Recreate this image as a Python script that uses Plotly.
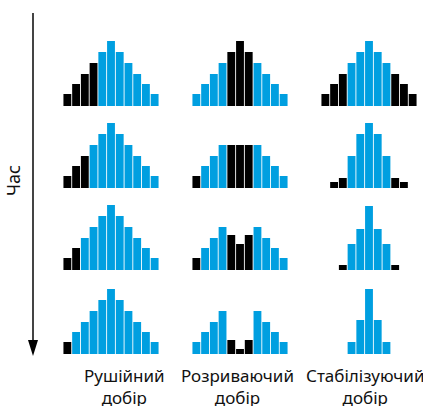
import plotly.graph_objects as go

W, H = 423, 406

# bar heights per panel (rows top->bottom), 11 classes each
directional = [
    [12, 22, 32, 43, 54, 65, 54, 43, 32, 22, 12],
    [12, 22, 32, 43, 54, 65, 54, 43, 32, 22, 12],
    [12, 22, 32, 43, 54, 65, 54, 43, 32, 22, 12],
    [12, 22, 32, 43, 54, 65, 54, 43, 32, 22, 12],
]
directional_black = [[0, 1, 2, 3], [0, 1, 2], [0, 1], [0]]

disruptive = [
    [12, 22, 32, 43, 54, 65, 54, 43, 32, 22, 12],
    [12, 22, 32, 43, 43, 43, 43, 43, 32, 22, 12],
    [12, 22, 32, 43, 35, 26, 35, 43, 32, 22, 12],
    [12, 22, 32, 43, 14, 5, 14, 43, 32, 22, 12],
]
disruptive_black = [[4, 5, 6], [0, 4, 5, 6], [0, 4, 5, 6], [4, 5, 6]]

stabilizing = [
    [12, 22, 32, 43, 54, 65, 54, 43, 32, 22, 12],
    [0, 6, 10, 32, 54, 65, 54, 32, 10, 6, 0],
    [0, 0, 5, 26, 41, 64, 41, 26, 5, 0, 0],
    [0, 0, 0, 12, 34, 65, 34, 12, 0, 0, 0],
]
stabilizing_black = [[0, 1, 2, 8, 9, 10], [1, 2, 8, 9], [2, 8], []]

labels = ["Рушійний<br>добір", "Розриваючий<br>добір", "Стабілізуючий<br>добір"]
axis_title = "Час"

BLUE = "#009fe0"
panels = [(directional, directional_black), (disruptive, disruptive_black),
          (stabilizing, stabilizing_black)]
col_px = [(63, 159), (192, 288), (321, 417)]
row_base = [106, 188, 270, 354]
label_x = [125, 237, 365]

fig = go.Figure()
layout = {}
n = 0
for c, (vals, blacks) in enumerate(panels):
    for r in range(4):
        n += 1
        sfx = "" if n == 1 else str(n)
        y = vals[r]
        colors = ["#000000" if i in blacks[r] else BLUE for i in range(len(y))]
        fig.add_trace(go.Bar(x=list(range(len(y))), y=y, marker=dict(color=colors, line_width=0),
                             xaxis="x" + sfx, yaxis="y" + sfx, showlegend=False, hoverinfo="skip"))
        x0, x1 = col_px[c]
        b = row_base[r]
        layout["xaxis" + sfx] = dict(domain=[x0 / W, x1 / W], range=[-0.5, 10.5], visible=False,
                                     anchor="y" + sfx, fixedrange=True)
        layout["yaxis" + sfx] = dict(domain=[(H - b) / H, (H - b + 70) / H], range=[0, 70],
                                     visible=False, anchor="x" + sfx, fixedrange=True)

fig.update_layout(**layout)

shapes = [
    dict(type="line", xref="paper", yref="paper", x0=33 / W, x1=33 / W,
         y0=(H - 13) / H, y1=(H - 342) / H, line=dict(color="#444444", width=2)),
    dict(type="path", xref="paper", yref="paper",
         path="M %f,%f L %f,%f L %f,%f Z" % (28 / W, (H - 340) / H, 38 / W, (H - 340) / H,
                                            33 / W, (H - 356) / H),
         fillcolor="#000000", line=dict(width=0)),
]

annotations = [dict(text=axis_title, x=13 / W, y=(H - 181) / H, xref="paper", yref="paper",
                    xanchor="center", yanchor="middle", showarrow=False, textangle=-90,
                    font=dict(size=18, color="#111111"))]
for c, t in enumerate(labels):
    annotations.append(dict(text=t, x=label_x[c] / W, y=(H - 362) / H, xref="paper",
                            yref="paper", showarrow=False, xanchor="center", yanchor="top",
                            align="center", font=dict(size=17, color="#111111")))

fig.update_layout(width=W, height=H, margin=dict(l=0, r=0, t=0, b=0),
                  paper_bgcolor="white", plot_bgcolor="white", bargap=0.1,
                  font=dict(family="Noto Sans"), shapes=shapes, annotations=annotations)

fig.write_html("out.html", config={"displayModeBar": False},
               post_script="document.body.style.margin='0px';")
